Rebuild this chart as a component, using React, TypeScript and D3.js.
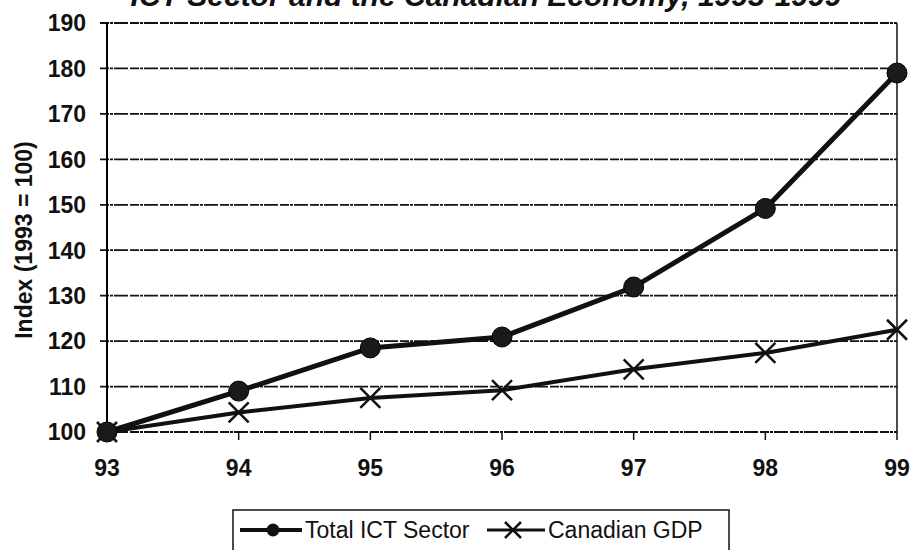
import { useRef, useEffect } from 'react';
import * as d3 from 'd3';

const years = ['93', '94', '95', '96', '97', '98', '99'];
const ictSector = [100, 109, 118.5, 120.9, 131.9, 149.2, 179];
const canadianGdp = [100, 104.3, 107.5, 109.2, 113.8, 117.4, 122.5];
const yTicks = [100, 110, 120, 130, 140, 150, 160, 170, 180, 190];

const TITLE = 'ICT Sector and the Canadian Economy, 1993-1999';
const FONT = '"Liberation Sans", Arial, sans-serif';

export default function App() {
  const svgRef = useRef<SVGSVGElement>(null);

  useEffect(() => {
    const svg = d3.select(svgRef.current);
    svg.selectAll('*').remove();

    const m = { top: 23, right: 16, bottom: 118, left: 107 };
    const W = 913 - m.left - m.right;
    const H = 550 - m.top - m.bottom;

    const x = d3.scalePoint().domain(years).range([0, W]);
    const y = d3.scaleLinear().domain([100, 190]).range([H, 0]);

    // title, partly cut by the top edge as in the scan
    svg.append('text').attr('x', 486).attr('y', 6).attr('text-anchor', 'middle')
      .attr('font-family', FONT).attr('font-size', 30).attr('font-weight', 'bold')
      .attr('font-style', 'italic').attr('fill', '#111').text(TITLE);

    const g = svg.append('g').attr('transform', `translate(${m.left},${m.top})`);

    // grid lines
    g.append('g').selectAll('line').data(yTicks).join('line')
      .attr('x1', -7).attr('x2', W)
      .attr('y1', d => y(d)).attr('y2', d => y(d))
      .attr('stroke', '#111').attr('stroke-width', 1.8)
      .attr('stroke-dasharray', '9,1,3,1,14,2');

    // y axis line and right border
    g.append('line').attr('x1', 0).attr('x2', 0).attr('y1', 0).attr('y2', H)
      .attr('stroke', '#000').attr('stroke-width', 2);
    g.append('line').attr('x1', W).attr('x2', W).attr('y1', 0).attr('y2', H)
      .attr('stroke', '#111').attr('stroke-width', 1.5);

    // y tick labels
    g.append('g').selectAll('text').data(yTicks).join('text')
      .attr('x', -21).attr('y', d => y(d)).attr('dy', '0.36em')
      .attr('text-anchor', 'end').attr('font-family', FONT).attr('font-size', 23)
      .attr('font-weight', 'bold').attr('fill', '#111').text(d => d);

    // x ticks + labels
    g.append('g').selectAll('line').data(years.slice(1)).join('line')
      .attr('x1', d => x(d)!).attr('x2', d => x(d)!)
      .attr('y1', H).attr('y2', H + 8)
      .attr('stroke', '#111').attr('stroke-width', 1.5);
    g.append('g').selectAll('text').data(years).join('text')
      .attr('x', d => x(d)!).attr('y', H + 44)
      .attr('text-anchor', 'middle').attr('font-family', FONT).attr('font-size', 23)
      .attr('font-weight', 'bold').attr('fill', '#111').text(d => d);

    // y axis title
    svg.append('text').attr('transform', `translate(32,240) rotate(-90)`)
      .attr('text-anchor', 'middle').attr('font-family', FONT).attr('font-size', 23)
      .attr('font-weight', 'bold').attr('fill', '#111').text('Index (1993 = 100)');

    const line = d3.line<number>().x((_, i) => x(years[i])!).y(d => y(d));

    g.append('path').datum(canadianGdp).attr('d', line)
      .attr('fill', 'none').attr('stroke', '#111').attr('stroke-width', 4);
    g.append('path').datum(ictSector).attr('d', line)
      .attr('fill', 'none').attr('stroke', '#111').attr('stroke-width', 5);

    const cross = (sel: d3.Selection<SVGGElement, unknown, null, undefined>, cx: number, cy: number, r: number) => {
      sel.append('path')
        .attr('d', `M${cx - r},${cy - r}L${cx + r},${cy + r}M${cx - r},${cy + r}L${cx + r},${cy - r}`)
        .attr('stroke', '#111').attr('stroke-width', 2.5).attr('fill', 'none');
    };

    const gdpMarks = g.append('g');
    canadianGdp.forEach((v, i) => cross(gdpMarks, x(years[i])!, y(v), 10));

    g.append('g').selectAll('circle').data(ictSector).join('circle')
      .attr('cx', (_, i) => x(years[i])!).attr('cy', d => y(d)).attr('r', 10)
      .attr('fill', '#1a1a1a').attr('stroke', '#000').attr('stroke-width', 1);

    // legend
    const lg = svg.append('g').attr('transform', 'translate(233,510)');
    lg.append('rect').attr('x', 0).attr('y', 0).attr('width', 496).attr('height', 42)
      .attr('fill', 'none').attr('stroke', '#111').attr('stroke-width', 1.5);
    lg.append('line').attr('x1', 7).attr('x2', 69).attr('y1', 20).attr('y2', 20)
      .attr('stroke', '#111').attr('stroke-width', 4);
    lg.append('circle').attr('cx', 40).attr('cy', 20).attr('r', 6.5).attr('fill', '#111');
    lg.append('text').attr('x', 72).attr('y', 28).attr('font-family', FONT)
      .attr('font-size', 23).attr('fill', '#111').text('Total ICT Sector');
    lg.append('line').attr('x1', 254).attr('x2', 312).attr('y1', 20).attr('y2', 20)
      .attr('stroke', '#111').attr('stroke-width', 3);
    cross(lg as unknown as d3.Selection<SVGGElement, unknown, null, undefined>, 280, 20, 8);
    lg.append('text').attr('x', 315).attr('y', 28).attr('font-family', FONT)
      .attr('font-size', 23).attr('fill', '#111').text('Canadian GDP');
  }, []);

  return (
    <svg ref={svgRef} width={913} height={550}
      style={{ position: 'absolute', left: 0, top: 0, background: '#fff' }} />
  );
}
